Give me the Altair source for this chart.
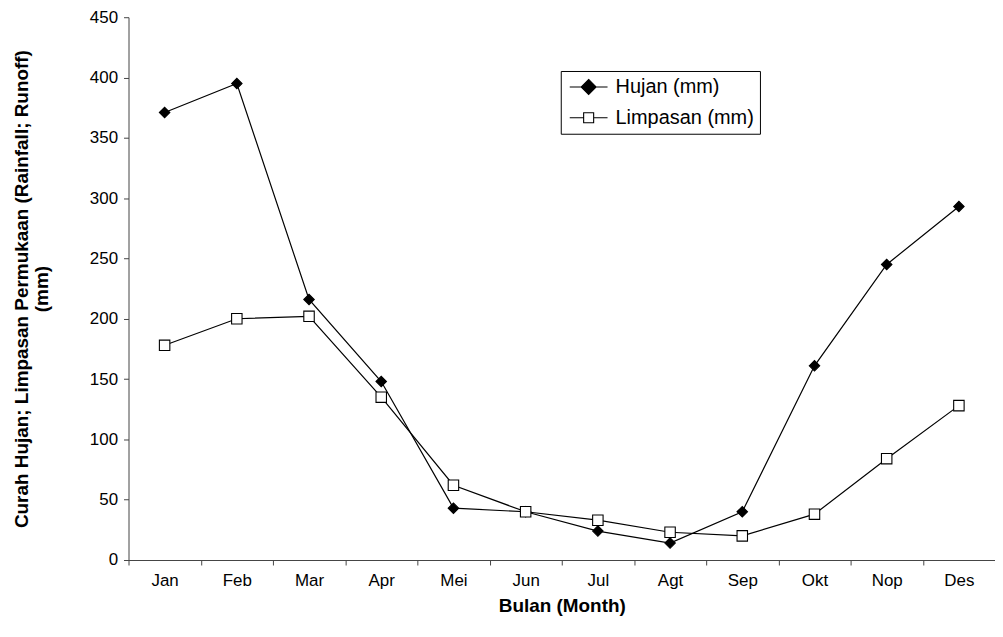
import altair as alt
import pandas as pd

months = ["Jan", "Feb", "Mar", "Apr", "Mei", "Jun", "Jul", "Agt", "Sep", "Okt", "Nop", "Des"]
hujan = [371, 395, 216, 148, 43, 40, 24, 14, 40, 161, 245, 293]
limpasan = [178, 200, 202, 135, 62, 40, 33, 23, 20, 38, 84, 128]
series_names = ["Hujan (mm)", "Limpasan (mm)"]

rows = []
for m, h, l in zip(months, hujan, limpasan):
    rows.append({"month": m, "series": series_names[0], "value": h})
    rows.append({"month": m, "series": series_names[1], "value": l})
df = pd.DataFrame(rows)

FONT = "Liberation Sans"

x_enc = alt.X(
    "month:N",
    sort=months,
    bandPosition=0.5,
    scale=alt.Scale(type="band", paddingInner=0, paddingOuter=0),
    axis=alt.Axis(
        title="Bulan (Month)",
        labelAngle=0,
        tickBand="extent",
        tickSize=5,
        labelPadding=8,
        titlePadding=8,
        grid=False,
        domainColor="#444444",
        tickColor="#444444",
    ),
)
y_enc = alt.Y(
    "value:Q",
    scale=alt.Scale(domain=[0, 450], nice=False),
    axis=alt.Axis(
        title=["Curah Hujan; Limpasan Permukaan (Rainfall; Runoff)", "(mm)"],
        values=list(range(0, 451, 50)),
        tickSize=5,
        labelPadding=6,
        titlePadding=38,
        titleLineHeight=20,
        grid=False,
        domainColor="#444444",
        tickColor="#444444",
    ),
)

base = alt.Chart(df)

lines = base.mark_line(color="black", strokeWidth=1.2).encode(
    x=x_enc, y=y_enc, detail="series:N"
)

points = base.mark_point(stroke="black", strokeWidth=1.1, size=110, opacity=1).encode(
    x=x_enc,
    y=y_enc,
    shape=alt.Shape("series:N", scale=alt.Scale(domain=series_names, range=["diamond", "square"]), legend=None),
    fill=alt.Fill("series:N", scale=alt.Scale(domain=series_names, range=["black", "white"]), legend=None),
)

diamond_path = "M-2.53,0H2.53M0,-1L1,0L0,1L-1,0Z"
square_path = "M-2.53,0H-0.67M0.67,0H2.53M-0.67,-0.67H0.67V0.67H-0.67Z"

leg = alt.Legend(
    title=None,
    orient="none",
    legendX=434,
    legendY=54,
    strokeColor="black",
    fillColor="white",
    padding=6,
    symbolOffset=12,
    labelOffset=17,
    rowPadding=11,
    symbolSize=225,
    symbolStrokeWidth=1.1,
    symbolStrokeColor="black",
    labelFontSize=20,
    labelFont=FONT,
    labelColor="black",
)

legend_layer = base.transform_filter("false").mark_point(
    stroke="black", strokeWidth=1.1, size=225, opacity=1
).encode(
    shape=alt.Shape("series:N", scale=alt.Scale(domain=series_names, range=[diamond_path, square_path]), legend=leg),
    fill=alt.Fill("series:N", scale=alt.Scale(domain=series_names, range=["black", "white"]), legend=leg),
    stroke=alt.Stroke("series:N", scale=alt.Scale(domain=series_names, range=["black", "black"]), legend=leg),
)

chart = (
    alt.layer(lines, points, legend_layer)
    .resolve_scale(shape="independent", fill="independent", stroke="independent")
    .properties(
        width=870,
        height=545,
        autosize=alt.AutoSizeParams(type="none"),
        padding={"left": 121, "top": 8, "right": 0, "bottom": 62},
    )
    .configure_view(stroke=None)
    .configure_axis(
        labelFont=FONT,
        labelFontSize=17,
        labelColor="black",
        titleFont=FONT,
        titleFontSize=19,
        titleFontWeight="bold",
        titleColor="black",
    )
)

chart.save("out.html", embed_options={"renderer": "svg", "actions": False})
